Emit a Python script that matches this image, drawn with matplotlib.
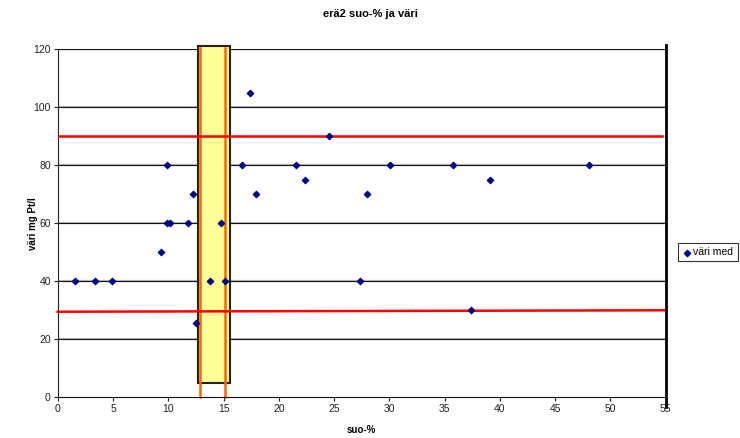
import matplotlib.pyplot as plt
from matplotlib.patches import Rectangle

plt.rcParams['font.family'] = ['Liberation Sans', 'DejaVu Sans']

# scatter data: suo-% vs väri
suo = [1.6, 3.4, 4.9, 9.3, 9.9, 9.9, 10.2, 11.8, 12.2, 12.5, 13.8, 14.8, 15.1,
       16.7, 17.4, 17.9, 21.6, 22.4, 24.5, 27.3, 28.0, 30.1, 35.8, 37.4, 39.1, 48.1]
vari = [40, 40, 40, 50, 80, 60, 60, 60, 70, 25.5, 40, 60, 40,
        80, 105, 70, 80, 75, 90, 40, 70, 80, 80, 30, 75, 80]

# limit lines
upper_x = [0, 54.7]
upper_y = [90, 90]
lower_x = [0, 55]
lower_y = [29.5, 30]

# highlighted band
band_x = [12.69, 15.58]
band_y = [4.8, 121.1]
orange_x = [12.84, 15.14]

fig = plt.figure(figsize=(7.4, 4.38), dpi=100)
ax = fig.add_axes([0.078, 0.093, 0.8216, 0.7944])

ax.set_xlim(0, 55)
ax.set_ylim(0, 120)
ax.set_xticks(range(0, 56, 5))
ax.set_yticks(range(0, 121, 20))
ax.tick_params(labelsize=7.5, length=3, colors='#222222', pad=2)

for y in range(20, 121, 20):
    ax.axhline(y, color='#bbbbbb', lw=1.6, zorder=0.5)
    ax.axhline(y, color='#111111', lw=0.8, zorder=0.6)

ax.add_patch(Rectangle((band_x[0], band_y[0]), band_x[1] - band_x[0], band_y[1] - band_y[0],
                       facecolor='#FFFF99', edgecolor='#222222', lw=1.5, zorder=1, clip_on=False))
for xo in orange_x:
    ax.plot([xo, xo], [0, band_y[1] - 0.5], color='#FF6600', lw=1.8, zorder=2, clip_on=False)

ax.plot(upper_x, upper_y, color='red', lw=1.8, zorder=3)
ax.plot(lower_x, lower_y, color='red', lw=1.8, zorder=3, clip_on=False)

sc = ax.scatter(suo, vari, marker='D', s=10, color='#000080', zorder=4, clip_on=False,
                label='väri med')

ax.spines['top'].set_visible(False)
ax.spines['right'].set_visible(False)
ax.spines['left'].set_color('#222222')
ax.spines['bottom'].set_color('#111111')
ax.plot([55, 55], [-3.5, 121.5], color='black', lw=2, clip_on=False, zorder=5)

ax.set_xlabel('suo-%', fontsize=7, fontweight='bold', labelpad=8)
ax.set_ylabel('väri mg Pt/l', fontsize=7, fontweight='bold')
ax.yaxis.set_label_coords(-0.033, 0.5)
fig.text(0.5, 0.968, 'erä2 suo-% ja väri', ha='center', va='center',
         fontsize=8, fontweight='bold')

leg = fig.legend(handles=[sc], loc='center left', bbox_to_anchor=(0.916, 0.424),
                 fontsize=7.5, frameon=True, fancybox=False, edgecolor='black',
                 handletextpad=0.1, borderpad=0.4, handlelength=1.0, borderaxespad=0)
leg.get_frame().set_linewidth(0.8)

fig.savefig('out.png', dpi=100)
